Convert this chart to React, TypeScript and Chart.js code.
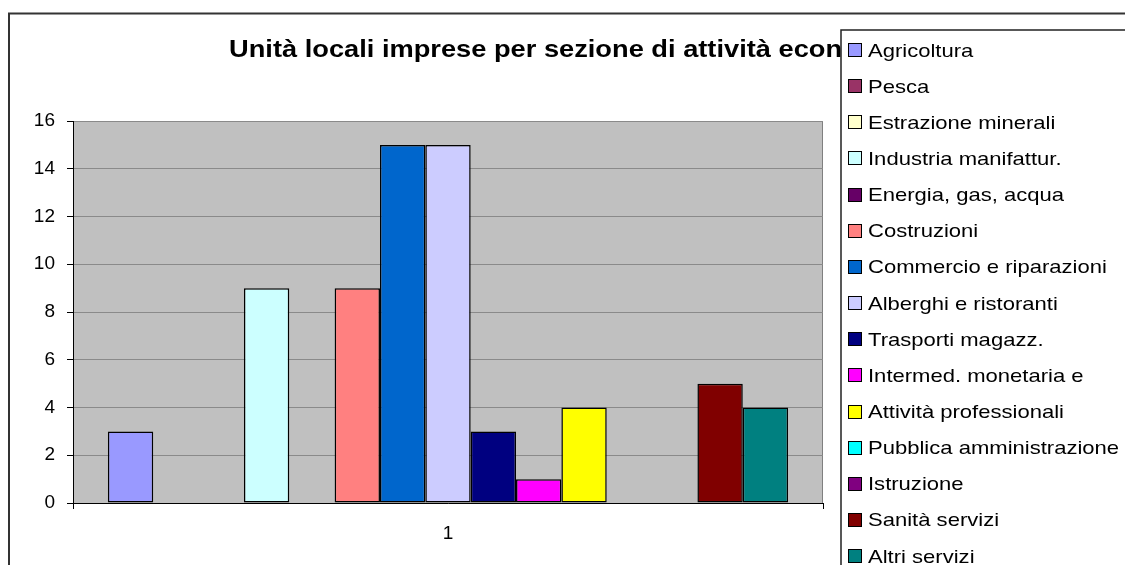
import React, { useEffect, useRef } from 'react';
import { Chart, registerables } from 'chart.js';

Chart.register(...registerables);

const categories = ['1'];
const seriesNames = [
  'Agricoltura',
  'Pesca',
  'Estrazione minerali',
  'Industria manifattur.',
  'Energia, gas, acqua',
  'Costruzioni',
  'Commercio e riparazioni',
  'Alberghi e ristoranti',
  'Trasporti magazz.',
  'Intermed. monetaria e',
  'Attività professionali',
  'Pubblica amministrazione',
  'Istruzione',
  'Sanità servizi',
  'Altri servizi',
];
const seriesValues = [3, 0, 0, 9, 0, 9, 15, 15, 3, 1, 4, 0, 0, 5, 4];
const seriesColors = [
  '#9999FF',
  '#993366',
  '#FFFFCC',
  '#CCFFFF',
  '#660066',
  '#FF8080',
  '#0066CC',
  '#CCCCFF',
  '#000080',
  '#FF00FF',
  '#FFFF00',
  '#00FFFF',
  '#800080',
  '#800000',
  '#008080',
];
const yMin = 0;
const yMax = 16;
const yStep = 2;
const titleText = 'Unità locali imprese per sezione di attività economica';

const FONT = '"Liberation Sans", Arial, Helvetica, sans-serif';

function drawScaledText(ctx: CanvasRenderingContext2D, text: string, x: number, y: number, sx: number) {
  ctx.save();
  ctx.translate(x, y);
  ctx.scale(sx, 1);
  ctx.fillText(text, 0, 0);
  ctx.restore();
}

const decorPlugin = {
  id: 'excelDecor',
  beforeDraw(chart: any) {
    const { ctx, chartArea } = chart;
    ctx.save();
    ctx.fillStyle = '#ffffff';
    ctx.fillRect(0, 0, chart.width, chart.height);
    ctx.fillStyle = '#C0C0C0';
    ctx.fillRect(chartArea.left, chartArea.top, chartArea.right - chartArea.left, chartArea.bottom - chartArea.top);
    ctx.strokeStyle = '#808080';
    ctx.lineWidth = 1;
    ctx.strokeRect(chartArea.left + 0.5, chartArea.top + 0.5, chartArea.right - chartArea.left - 1, chartArea.bottom - chartArea.top);
    ctx.restore();
  },
  afterDraw(chart: any) {
    const { ctx } = chart;
    ctx.save();
    // title
    ctx.fillStyle = '#000';
    ctx.font = `bold 24px ${FONT}`;
    ctx.textAlign = 'left';
    ctx.textBaseline = 'alphabetic';
    drawScaledText(ctx, titleText, 229, 57, 1.135);

    // legend box
    const lx = 841;
    const ly = 30;
    ctx.fillStyle = '#ffffff';
    ctx.fillRect(lx, ly, chart.width - lx + 10, chart.height - ly + 10);
    ctx.strokeStyle = '#222';
    ctx.lineWidth = 1.5;
    ctx.strokeRect(lx, ly, chart.width - lx + 20, chart.height - ly + 20);

    ctx.font = `19px ${FONT}`;
    chart.data.datasets.forEach((ds: any, i: number) => {
      const cy = 50 + 36.15 * i;
      ctx.fillStyle = ds.backgroundColor;
      ctx.fillRect(848, Math.round(cy - 7), 14, 14);
      ctx.strokeStyle = '#000';
      ctx.lineWidth = 1;
      ctx.strokeRect(848.5, Math.round(cy - 7) + 0.5, 13, 13);
      ctx.fillStyle = '#000';
      drawScaledText(ctx, ds.label, 868, cy + 6.5, 1.16);
    });

    // outer frame
    ctx.strokeStyle = '#333';
    ctx.lineWidth = 2;
    ctx.strokeRect(9, 13.5, chart.width + 50, chart.height + 50);
    ctx.restore();
  },
};

export default function App() {
  const canvasRef = useRef<HTMLCanvasElement | null>(null);

  useEffect(() => {
    if (!canvasRef.current) return;
    const datasets = seriesNames.map((name, i) => ({
      label: name,
      data: [seriesValues[i]],
      backgroundColor: seriesColors[i],
      borderColor: '#000000',
      borderWidth: 1.5,
      borderSkipped: false as const,
      categoryPercentage: 0.907,
      barPercentage: 1,
    }));
    const chart = new Chart(canvasRef.current, {
      type: 'bar',
      data: { labels: categories, datasets },
      options: {
        animation: false,
        responsive: false,
        devicePixelRatio: 1,
        layout: { padding: { left: 0, right: 302, top: 121, bottom: 0 } },
        plugins: {
          legend: { display: false },
          title: { display: false },
          tooltip: { enabled: false },
        },
        scales: {
          x: {
            grid: {
              drawOnChartArea: false,
              drawTicks: true,
              tickLength: 6,
              tickColor: '#000',
              color: '#000',
            },
            border: { color: '#000', width: 1 },
            ticks: {
              color: '#000',
              font: { family: FONT, size: 19 },
              padding: 13,
            },
            afterFit: (axis: any) => {
              axis.height = 62;
            },
          },
          y: {
            min: yMin,
            max: yMax,
            ticks: {
              stepSize: yStep,
              color: '#000',
              font: { family: FONT, size: 19 },
              padding: 12,
            },
            grid: {
              color: '#8a8a8a',
              tickColor: '#000',
              tickLength: 6,
              lineWidth: 1,
            },
            border: { color: '#000', width: 1 },
            afterFit: (axis: any) => {
              axis.width = 73;
            },
          },
        },
      },
      plugins: [decorPlugin],
    });
    return () => chart.destroy();
  }, []);

  return (
    <div style={{ position: 'fixed', left: 0, top: 0, width: 1125, height: 565, background: '#fff' }}>
      <canvas ref={canvasRef} width={1125} height={565} style={{ display: 'block' }} />
    </div>
  );
}
